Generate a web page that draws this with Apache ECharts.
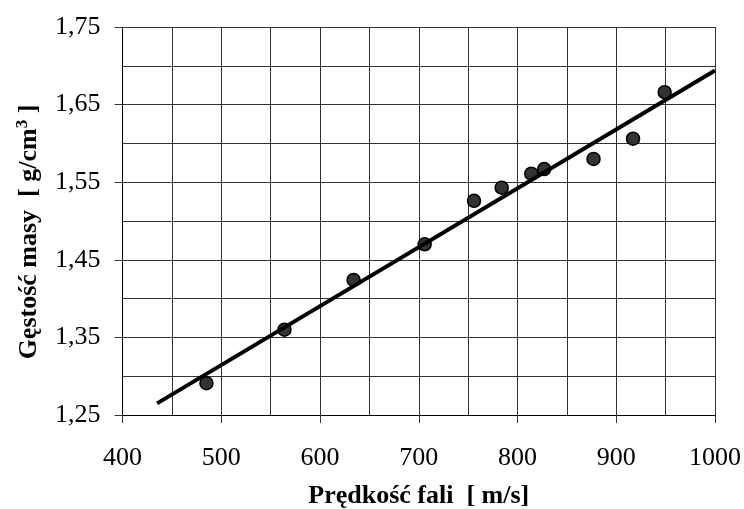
<!DOCTYPE html>
<html>
<head>
<meta charset="utf-8">
<script src="https://cdn.jsdelivr.net/npm/echarts@6/dist/echarts.min.js"></script>
<style>
  html, body { margin: 0; padding: 0; background: #fff; }
  #chart { width: 744px; height: 509px; }
</style>
</head>
<body>
<div id="chart"></div>
<script>
// Measured samples: wave velocity [m/s] vs. mass density [g/cm3]
const velocity = [485, 564, 634, 706, 756, 784, 814, 827, 877, 917, 949];
const density = [1.291, 1.360, 1.424, 1.470, 1.526, 1.543, 1.561, 1.567, 1.580, 1.606, 1.666];

// Linear trend line endpoints
const trendX = [435, 1000];
const trendY = [1.265, 1.694];

const FONT = '"Liberation Serif", "Times New Roman", serif';

const chart = echarts.init(document.getElementById('chart'), null, { renderer: 'canvas' });

const points = velocity.map((v, i) => [v, density[i]]);
const trend = trendX.map((v, i) => [v, trendY[i]]);

chart.setOption({
  backgroundColor: '#fff',
  animation: false,
  grid: { left: 122.5, right: 29, top: 27, bottom: 94, containLabel: false, outerBoundsMode: 'none' },
  xAxis: {
    type: 'value',
    min: 400, max: 1000, interval: 100,
    name: 'Prędkość fali  [ m/s]',
    nameLocation: 'middle',
    nameGap: 68,
    nameTextStyle: { fontFamily: FONT, fontWeight: 'bold', fontSize: 26, color: '#000' },
    axisLine: { show: true, lineStyle: { color: '#000', width: 1 } },
    axisTick: { show: true, inside: false, length: 8, lineStyle: { color: '#333' } },
    axisLabel: {
      fontFamily: FONT, fontSize: 26, color: '#000', margin: 30,
      formatter: v => String(v)
    },
    splitLine: { show: true, lineStyle: { color: '#333', width: 1 } },
    minorTick: { show: false, splitNumber: 2 },
    minorSplitLine: { show: true, lineStyle: { color: '#333', width: 1 } }
  },
  yAxis: {
    type: 'value',
    min: 1.25, max: 1.75, interval: 0.1,
    name: 'Gęstość masy  [ g/cm{sup|3} ]',
    nameLocation: 'middle',
    nameRotate: 90,
    nameGap: 79,
    nameTextStyle: {
      fontFamily: FONT, fontWeight: 'bold', fontSize: 26, color: '#000',
      padding: [0, 22, 0, 0],
      rich: {
        sup: { fontFamily: FONT, fontWeight: 'bold', fontSize: 17, color: '#000', verticalAlign: 'top', padding: [0, 0, 12, 0] }
      }
    },
    axisLine: { show: true, lineStyle: { color: '#000', width: 1 } },
    axisTick: { show: true, inside: false, length: 8, lineStyle: { color: '#333' } },
    axisLabel: {
      fontFamily: FONT, fontSize: 26, color: '#000', margin: 22,
      formatter: v => v.toFixed(2).replace('.', ',')
    },
    splitLine: { show: true, lineStyle: { color: '#333', width: 1 } },
    minorTick: { show: false, splitNumber: 2 },
    minorSplitLine: { show: true, lineStyle: { color: '#333', width: 1 } }
  },
  series: [
    {
      type: 'scatter',
      data: points,
      symbol: 'circle',
      symbolSize: 13,
      itemStyle: { color: '#333', borderColor: '#000', borderWidth: 1.5, opacity: 1 },
      z: 2
    },
    {
      type: 'line',
      data: trend,
      symbol: 'none',
      lineStyle: { color: '#000', width: 4 },
      z: 3
    }
  ]
});
</script>
</body>
</html>
